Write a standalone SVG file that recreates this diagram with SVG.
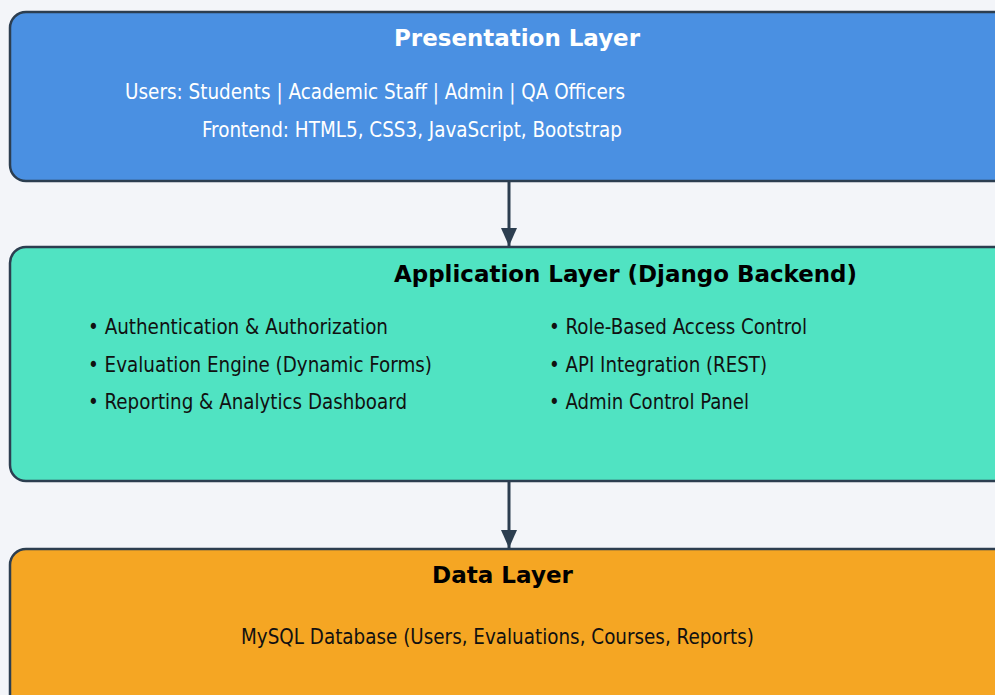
<svg xmlns="http://www.w3.org/2000/svg" width="995" height="695" viewBox="0 0 995 695">
<defs>
<style>
.box{stroke:#2c3e50;stroke-width:2.5}
.title{font-family:"DejaVu Sans",Verdana,sans-serif;font-size:23px;font-weight:bold}
.body{font-family:"DejaVu Sans Condensed","DejaVu Sans",sans-serif;font-size:21px}
.conn{stroke:#2c3e50;stroke-width:3;fill:none}
</style>
<marker id="ah" markerWidth="18" markerHeight="16" refX="18" refY="8" orient="auto" markerUnits="userSpaceOnUse" viewBox="0 0 18 16">
<path d="M0,0 L18,8 L0,16 Z" fill="#2c3e50"/>
</marker>
</defs>
<rect width="995" height="695" fill="#f3f5f9"/>
<g id="presentation">
<rect class="box" x="10" y="12" width="1000" height="169" rx="16" fill="#4a90e2"/>
<text class="title" x="394" y="46" fill="#ffffff" textLength="246" lengthAdjust="spacingAndGlyphs">Presentation Layer</text>
<text class="body" x="125" y="99" fill="#ffffff" textLength="500" lengthAdjust="spacingAndGlyphs">Users: Students | Academic Staff | Admin | QA Officers</text>
<text class="body" x="202" y="137" fill="#ffffff" textLength="420" lengthAdjust="spacingAndGlyphs">Frontend: HTML5, CSS3, JavaScript, Bootstrap</text>
</g>
<g id="application">
<rect class="box" x="10" y="247" width="1000" height="234" rx="16" fill="#50e3c2"/>
<text class="title" x="394" y="282" fill="#000000" textLength="463" lengthAdjust="spacingAndGlyphs">Application Layer (Django Backend)</text>
<text class="body" x="88" y="334" fill="#111111" textLength="300" lengthAdjust="spacingAndGlyphs">• Authentication &amp; Authorization</text>
<text class="body" x="88" y="372" fill="#111111" textLength="344" lengthAdjust="spacingAndGlyphs">• Evaluation Engine (Dynamic Forms)</text>
<text class="body" x="88" y="409" fill="#111111" textLength="319" lengthAdjust="spacingAndGlyphs">• Reporting &amp; Analytics Dashboard</text>
<text class="body" x="549" y="334" fill="#111111" textLength="258" lengthAdjust="spacingAndGlyphs">• Role-Based Access Control</text>
<text class="body" x="549" y="372" fill="#111111" textLength="218" lengthAdjust="spacingAndGlyphs">• API Integration (REST)</text>
<text class="body" x="549" y="409" fill="#111111" textLength="200" lengthAdjust="spacingAndGlyphs">• Admin Control Panel</text>
</g>
<g id="data">
<rect class="box" x="10" y="549" width="1000" height="170" rx="16" fill="#f5a623"/>
<text class="title" x="432" y="583" fill="#000000" textLength="141" lengthAdjust="spacingAndGlyphs">Data Layer</text>
<text class="body" x="241" y="644" fill="#111111" textLength="513" lengthAdjust="spacingAndGlyphs">MySQL Database (Users, Evaluations, Courses, Reports)</text>
</g>
<g id="connectors">
<line class="conn" x1="509" y1="182" x2="509" y2="246" marker-end="url(#ah)"/>
<line class="conn" x1="509" y1="482" x2="509" y2="548" marker-end="url(#ah)"/>
</g>
</svg>
